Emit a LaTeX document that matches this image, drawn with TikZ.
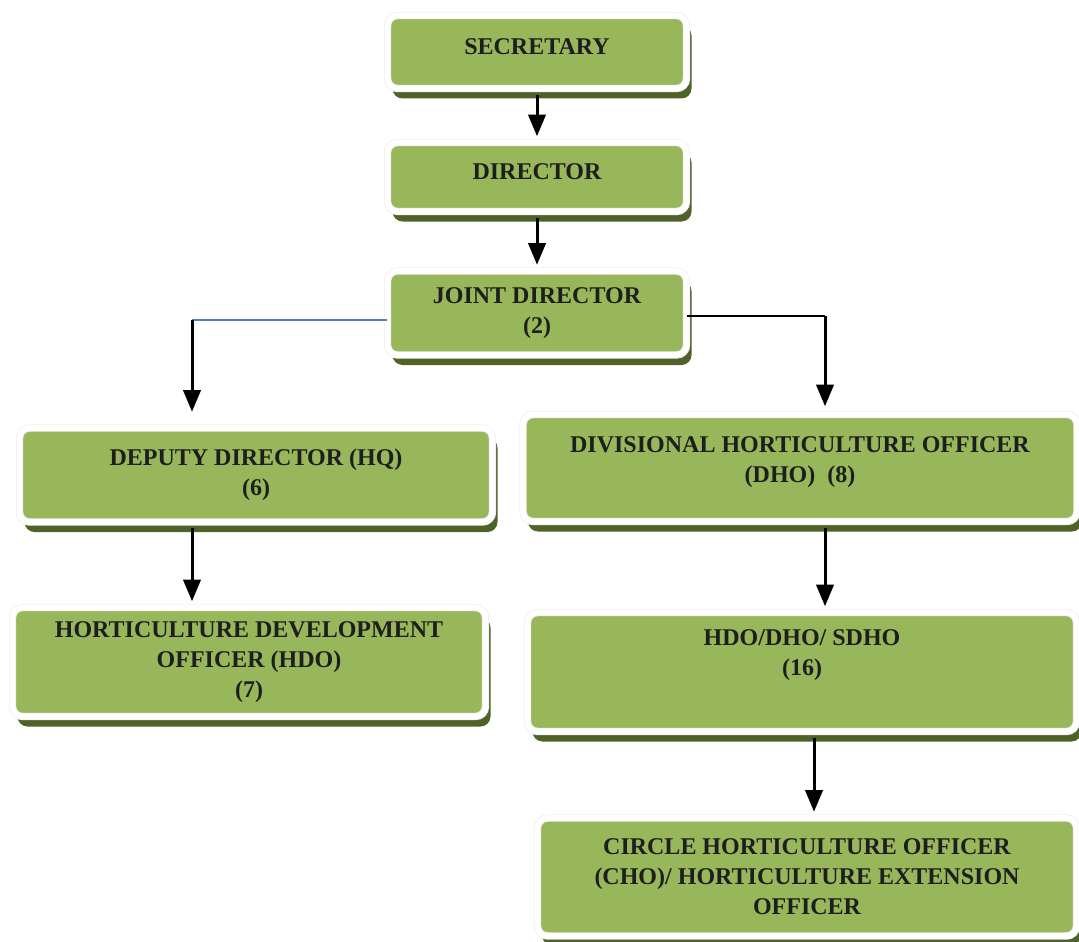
\documentclass[tikz,border=0pt]{standalone}
\usepackage{fontspec}
\setmainfont{Liberation Serif}
\usepackage{tikz}
\usetikzlibrary{shapes,arrows,shadows}
\definecolor{boxgreen}{HTML}{98B75A}
\definecolor{shadowgreen}{HTML}{4F6228}
\definecolor{linkblue}{HTML}{4F81BD}
\definecolor{textdark}{HTML}{1E1E1E}
\tikzstyle{orgbox} = [rectangle, rounded corners=5pt, fill=boxgreen, draw=gray!12, double=white, double distance=2.8pt, line width=0.45pt, drop shadow={shadow xshift=2.5pt, shadow yshift=-5pt, fill=shadowgreen, opacity=1}, align=center, text=textdark, font=\fontsize{12}{15}\selectfont\bfseries]
\tikzstyle{arrow} = [line width=1.5pt, ->, >=triangle 45, shorten <=3pt, shorten >=3pt]
\tikzstyle{blueline} = [linkblue, line width=0.9pt]
\tikzstyle{thinline} = [black, line width=0.6pt]

\begin{document}
\begin{tikzpicture}[node distance=62.5pt, x=0.5pt, y=-0.5pt]
        \useasboundingbox (0,0) rectangle (1079,941);
        \node (sec) [orgbox, minimum width=149.5pt, minimum height=36.5pt, text depth=5pt] at (537,52) {SECRETARY};
        \node (dir) [orgbox, minimum width=149.5pt, minimum height=34.5pt, text depth=5pt, below of=sec] {DIRECTOR};
        \node (jd) [orgbox, minimum width=149.5pt, minimum height=42pt, below of=dir, yshift=-5.5pt] {JOINT DIRECTOR\\(2)};
        \node (dd) [orgbox, minimum width=236.5pt, minimum height=47pt, below of=jd, xshift=-140.5pt, yshift=-18.5pt] {DEPUTY DIRECTOR (HQ)\\(6)};
        \node (hdo) [orgbox, minimum width=236.5pt, minimum height=54.5pt, below of=dd, xshift=-3.5pt, yshift=-31pt] {HORTICULTURE DEVELOPMENT\\OFFICER (HDO)\\(7)};
        \node (dho) [orgbox, minimum width=277pt, minimum height=53.5pt, below of=jd, xshift=131.5pt, yshift=-15pt] {DIVISIONAL HORTICULTURE OFFICER\\(DHO)~~(8)\\[-7pt]~};
        \node (sdho) [orgbox, minimum width=274.5pt, minimum height=59.5pt, below of=dho, xshift=1pt, yshift=-39.5pt] {HDO/DHO/ SDHO\\(16)\\[4pt]~};
        \node (cho) [orgbox, minimum width=269.5pt, minimum height=59pt, below of=sdho, xshift=2.5pt, yshift=-40pt] {CIRCLE HORTICULTURE OFFICER\\(CHO)/ HORTICULTURE EXTENSION\\OFFICER};
        \coordinate (jdleft) at (192,320);
        \coordinate (jdright) at (825,316);
        \draw [arrow] (sec) -- (dir);
        \draw [arrow] (dir) -- (jd);
        \draw [blueline] (jd.west |- jdleft) -- (jdleft);
        \draw [arrow, shorten <=0pt, shorten >=8pt] (jdleft) -- (jdleft |- dd.north);
        \draw [thinline] (jd.east |- jdright) -- (jdright);
        \draw [arrow, shorten <=0pt, shorten >=4pt] (jdright) -- (jdright |- dho.north);
        \draw [arrow] (dd.south -| jdleft) -- (hdo.north -| jdleft);
        \draw [arrow] (dho.south -| jdright) -- (sdho.north -| jdright);
        \draw [arrow] ([xshift=6pt]sdho.south) -- ([xshift=6pt]sdho.south |- cho.north);
    \end{tikzpicture}
\end{document}
